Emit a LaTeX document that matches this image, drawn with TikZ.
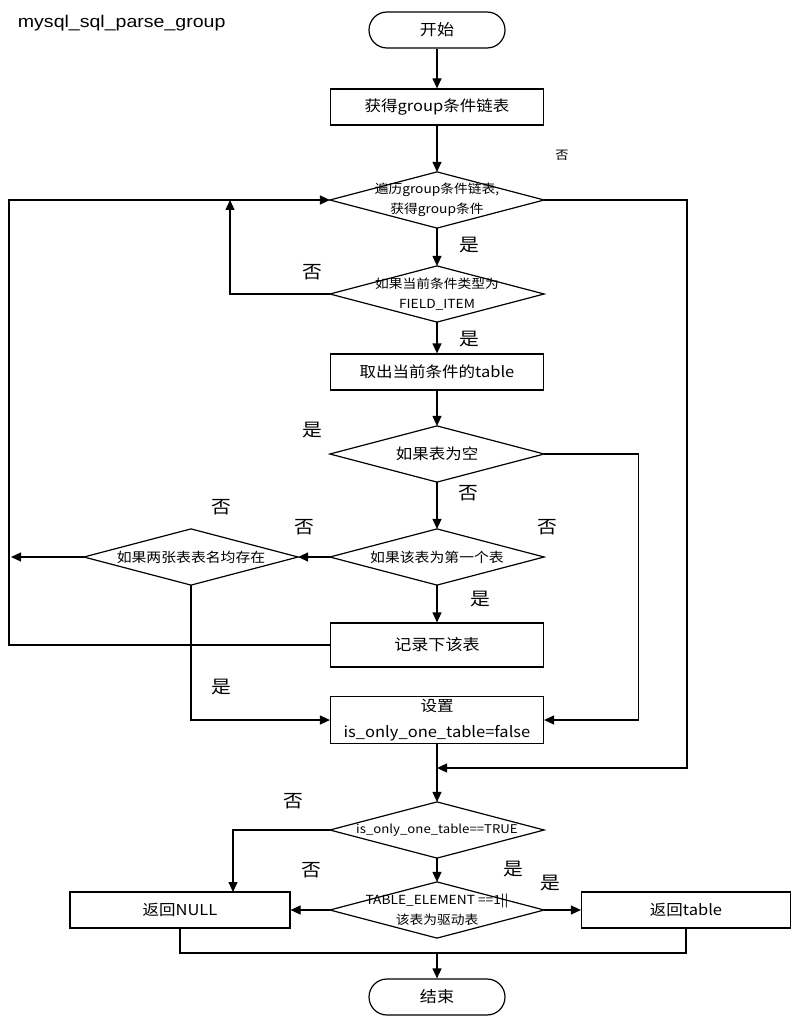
\documentclass[tikz,border=0pt]{standalone}
\usepackage{fontspec}
\setmainfont{Noto Sans CJK SC}[FakeStretch=1.1]
\newfontfamily\titlefont{Liberation Sans}[FakeStretch=1.15]
\usetikzlibrary{arrows.meta, calc}

\tikzset{
    process/.style={draw, rectangle, minimum width=213pt, minimum height=36pt, inner sep=0pt, align=center},
    terminal/.style={draw, rectangle, rounded corners=18pt, minimum width=136pt, minimum height=36pt, inner sep=0pt},
    decision/.style={rectangle, minimum width=213pt, minimum height=55pt, inner sep=0pt, align=center,
        append after command={\pgfextra{\draw (\tikzlastnode.north) -- (\tikzlastnode.east) -- (\tikzlastnode.south) -- (\tikzlastnode.west) -- cycle;}}},
    bigtxt/.style={font=\fontsize{15}{18}\selectfont},
    smalltxt/.style={font=\fontsize{12.5}{20}\selectfont},
    lbl/.style={font=\fontsize{18}{18}\selectfont, inner sep=0pt},
}

\begin{document}
\begin{tikzpicture}[x=1pt, y=-1pt, line width=1.2pt, >={Triangle[length=10pt,width=9pt]}]
        \useasboundingbox (0,0) rectangle (803,1024);

        % Title
        \node[anchor=west, font=\titlefont\fontsize{17}{20}\selectfont] (title) at (14,23) {mysql\_sql\_parse\_group};

        % Main column
        \node[terminal, font=\fontsize{15.5}{18}\selectfont] (start) at (437,30) {开始};
        \node[process, bigtxt] (getlist) at (437,107) {获得group条件链表};
        \node[decision, smalltxt] (loopcond) at (437,200) {遍历group条件链表,\\获得group条件};
        \node[decision, smalltxt] (fieldchk) at (437,294) {如果当前条件类型为\\FIELD\_ITEM};
        \node[process, bigtxt] (taketab) at (437,372) {取出当前条件的table};
        \node[decision, font=\fontsize{15}{18}\selectfont] (emptychk) at (437,454) {如果表为空};
        \node[decision, font=\fontsize{13.5}{18}\selectfont] (firstchk) at (437,557) {如果该表为第一个表};
        \node[decision, font=\fontsize{13.5}{18}\selectfont] (bothchk) at (191,557) {如果两张表表名均存在};
        \node[process, font=\fontsize{15.5}{18}\selectfont, minimum height=44pt] (recordtab) at (437,645) {记录下该表};
        \node[process, bigtxt, minimum height=47pt, font=\fontsize{15}{26}\selectfont] (setflag) at (437,720) {设置\\is\_only\_one\_table=false};
        \node[decision, font=\fontsize{12}{18}\selectfont] (onlychk) at (437,830) {is\_only\_one\_table==TRUE};
        \node[decision, font=\fontsize{12.5}{20}\selectfont] (drivechk) at (437,910) {TABLE\_ELEMENT ==1||\\该表为驱动表};
        \node[process, bigtxt, minimum width=220pt] (retnull) at (180,910) {返回NULL};
        \node[process, bigtxt, minimum width=209pt] (rettab) at (686,910) {返回table};
        \node[terminal, font=\fontsize{15.5}{18}\selectfont] (finish) at (437,997) {结束};

        % Branch labels
        \node[font=\fontsize{12}{14}\selectfont] (no0) at (562,155) {否};
        \node[lbl] (yes1) at (469,245) {是};
        \node[lbl] (no1) at (312,272) {否};
        \node[lbl] (yes2) at (469,339) {是};
        \node[lbl] (yes3) at (312,430) {是};
        \node[lbl] (no2) at (468,493) {否};
        \node[lbl] (no3) at (221,507) {否};
        \node[lbl] (no4) at (304,527) {否};
        \node[lbl] (no5) at (547,527) {否};
        \node[lbl] (yes4) at (480,599) {是};
        \node[lbl] (yes5) at (221,687) {是};
        \node[lbl] (no6) at (293,801) {否};
        \node[lbl] (no7) at (311,870) {否};
        \node[lbl] (yes6) at (513,869) {是};
        \node[lbl] (yes7) at (550,883) {是};

        % Helper points
        \coordinate (leftout) at (11,557);
        \coordinate (loopleft) at (9,645);
        \coordinate (looptop) at (9,200);
        \coordinate (fieldup) at (230,294);
        \coordinate (fieldhit) at (230,200);
        \coordinate (rightdown) at (687,768);
        \coordinate (joinmid) at (437,768);
        \coordinate (nullbend) at (233,830);
        \coordinate (nullin) at (233,892);
        \coordinate (joinbot) at (437,953);

        % Straight flow
        \draw[->] (start) -- (getlist);
        \draw[->] (getlist) -- (loopcond);
        \draw[->] (loopcond) -- (fieldchk);
        \draw[->] (fieldchk) -- (taketab);
        \draw[->] (taketab) -- (emptychk);
        \draw[->] (emptychk) -- (firstchk);
        \draw[->] (firstchk) -- (recordtab);
        \draw[->] (firstchk.west) -- (bothchk.east);
        \draw[->] (bothchk.west) -- (leftout);
        \draw[->] (setflag) -- (onlychk);
        \draw[->] (onlychk) -- (drivechk);
        \draw[->] (drivechk.west) -- (retnull.east);
        \draw[->] (drivechk.east) -- (rettab.west);

        % Loops and side paths
        \draw[->] (recordtab.west) -- (loopleft) -- (looptop) -- (loopcond.west);
        \draw[->] (fieldchk.west) -- (fieldup) -- (fieldhit);
        \draw[->] (loopcond.east) -| (rightdown) -- (joinmid);
        \draw[->] (emptychk.east) -| ($(setflag.east)+(94,0)$) -- (setflag.east);
        \draw[->] (bothchk.south) |- (setflag.west);
        \draw[->] (onlychk.west) -- (nullbend) -- (nullin);
        \draw (retnull.south) |- (joinbot) -| (rettab.south);
        \draw[->] (joinbot) -- (finish);
    \end{tikzpicture}
\end{document}
